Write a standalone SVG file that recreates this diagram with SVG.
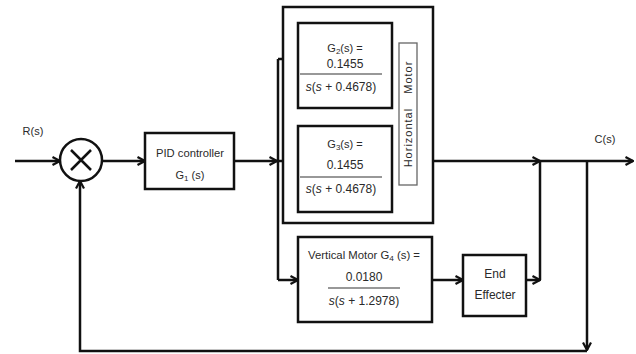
<svg xmlns="http://www.w3.org/2000/svg" width="636" height="354" viewBox="0 0 636 354">
<style>
.box{fill:#fff;stroke:#111;stroke-width:2.5}
.thin{fill:#fff;stroke:#666;stroke-width:1.3}
.t{font-family:"Liberation Sans",Arial,sans-serif;font-size:11px;fill:#2a2a2a;text-anchor:middle}
.f{font-size:12px}
.ln{fill:none;stroke:#111;stroke-width:2.5}
.fr{stroke:#333;stroke-width:1.2}
</style>
<defs>
<marker id="ar" viewBox="0 0 10 10" markerWidth="10" markerHeight="10" refX="9" refY="5" orient="auto" markerUnits="userSpaceOnUse">
<path d="M1.5,1 L9,5 L1.5,9" fill="none" stroke="#111" stroke-width="2.2"/>
</marker>
</defs>
<rect width="636" height="354" fill="#fff"/>

<g id="connectors">
<path class="ln" d="M15,161 H60" marker-end="url(#ar)"/>
<path class="ln" d="M102,161 H145" marker-end="url(#ar)"/>
<path class="ln" d="M234,161 H277" marker-end="url(#ar)"/>
<path class="ln" d="M278,59 V280"/>
<path class="ln" d="M278,59 H298" marker-end="url(#ar)"/>
<path class="ln" d="M278,161 H298" marker-end="url(#ar)"/>
<path class="ln" d="M278,280 H298" marker-end="url(#ar)"/>
<path class="ln" d="M433,161 H540" marker-end="url(#ar)"/>
<path class="ln" d="M540,161 H633" marker-end="url(#ar)"/>
<path class="ln" d="M432,280 H463" marker-end="url(#ar)"/>
<path class="ln" d="M540,161 V280"/>
<path class="ln" d="M526,280 H540" marker-end="url(#ar)"/>
<path class="ln" d="M587,161 V350" marker-end="url(#ar)"/>
<path class="ln" d="M587,351 H80 V181" marker-end="url(#ar)"/>
</g>

<g id="labels">
<text class="t" x="33" y="135">R(s)</text>
<text class="t" x="605" y="143">C(s)</text>
</g>

<g id="sum">
<circle cx="81" cy="160" r="21" fill="#fff" stroke="#111" stroke-width="2.5"/>
<path d="M71,150 L91,170 M91,150 L71,170" stroke="#111" stroke-width="2.5"/>
</g>

<g id="pid">
<rect class="box" x="145" y="133" width="89" height="56"/>
<text class="t" x="190" y="157" textLength="68" lengthAdjust="spacingAndGlyphs">PID controller</text>
<text class="t" x="190" y="179">G<tspan font-size="8" dy="2">1</tspan><tspan dy="-2"> (s)</tspan></text>
</g>

<g id="horizontal-motor">
<rect class="box" x="283" y="7" width="150" height="216"/>
<rect class="thin" x="399" y="43" width="18" height="142"/>
<text class="t" transform="translate(412,114) rotate(-90)" x="0" y="0" font-size="12" letter-spacing="1" word-spacing="10">Horizontal Motor</text>
</g>

<g id="g2">
<rect class="box" x="298" y="23" width="94" height="85"/>
<text class="t" x="345" y="52">G<tspan font-size="8" dy="2">2</tspan><tspan dy="-2">(s) =</tspan></text>
<text class="t f" x="345" y="68">0.1455</text>
<line class="fr" x1="300" y1="74" x2="382" y2="74"/>
<text class="t f" x="341" y="91"><tspan font-style="italic">s</tspan>(<tspan font-style="italic">s</tspan> + 0.4678)</text>
</g>

<g id="g3">
<rect class="box" x="298" y="126" width="94" height="86"/>
<text class="t" x="345" y="148">G<tspan font-size="8" dy="2">3</tspan><tspan dy="-2">(s) =</tspan></text>
<text class="t f" x="345" y="169">0.1455</text>
<line class="fr" x1="300" y1="177" x2="382" y2="177"/>
<text class="t f" x="341" y="193"><tspan font-style="italic">s</tspan>(<tspan font-style="italic">s</tspan> + 0.4678)</text>
</g>

<g id="vertical-motor">
<rect class="box" x="298" y="237" width="134" height="85"/>
<text class="t" x="364" y="259" textLength="112" lengthAdjust="spacingAndGlyphs">Vertical Motor G<tspan font-size="8" dy="2">4</tspan><tspan dy="-2"> (s) =</tspan></text>
<text class="t f" x="364" y="281">0.0180</text>
<line class="fr" x1="328" y1="288" x2="400" y2="288"/>
<text class="t f" x="364" y="305"><tspan font-style="italic">s</tspan>(<tspan font-style="italic">s</tspan> + 1.2978)</text>
</g>

<g id="end-effecter">
<rect class="box" x="463" y="255" width="63" height="61"/>
<text class="t f" x="495" y="278">End</text>
<text class="t f" x="495" y="299">Effecter</text>
</g>
</svg>
